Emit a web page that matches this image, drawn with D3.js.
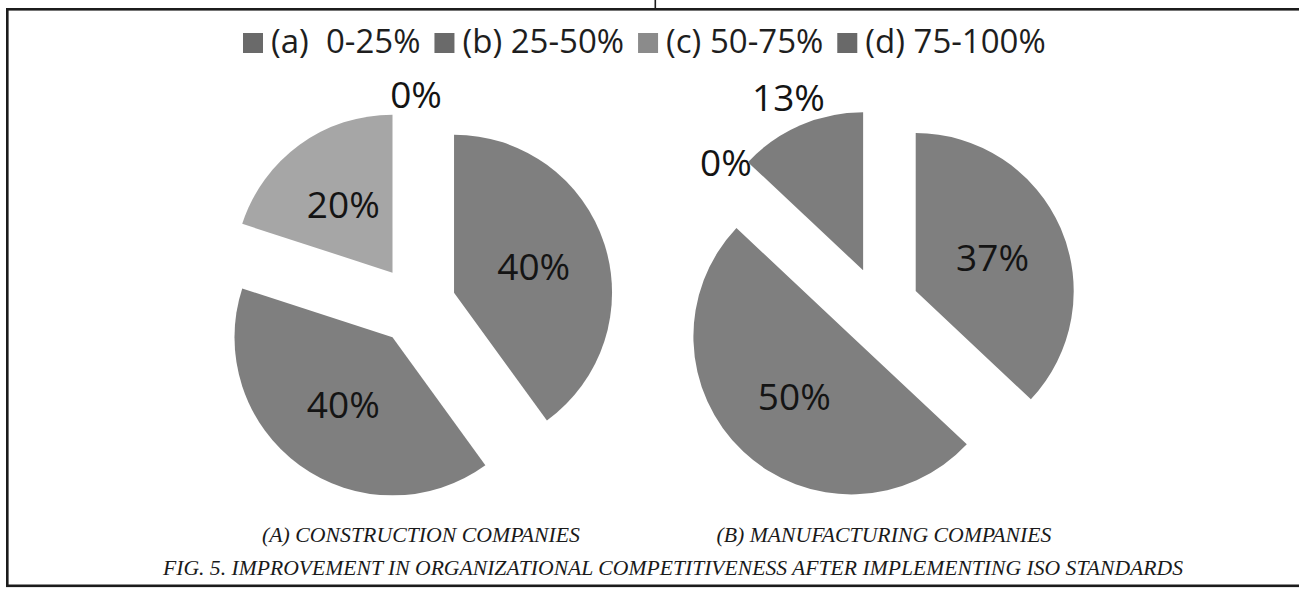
<!DOCTYPE html>
<html>
<head>
<meta charset="utf-8">
<script src="https://cdn.jsdelivr.net/npm/d3@7"></script>
<style>
  html, body { margin: 0; padding: 0; background: #fff; }
  svg { display: block; }
</style>
</head>
<body>
<svg id="chart" width="1299" height="590"></svg>
<script>
// Response categories (share of improvement) and survey results per sector, in %
const categories = ["(a)  0-25%", "(b) 25-50%", "(c) 50-75%", "(d) 75-100%"];
const construction = [40, 40, 20, 0];
const manufacturing = [37, 50, 0, 13];
const panelTitles = ["(A) CONSTRUCTION COMPANIES", "(B) MANUFACTURING COMPANIES"];
const figureTitle = "FIG. 5. IMPROVEMENT IN ORGANIZATIONAL COMPETITIVENESS AFTER IMPLEMENTING ISO STANDARDS";
const sliceColors = ["#7f7f7f", "#7f7f7f", "#a6a6a6", "#7d7d7d"];

const svg = d3.select("#chart");
const color = d3.scaleOrdinal().domain(categories).range(sliceColors);

// Page frame: heavy rule on top, left and bottom, small divider tick above
const ink = "#1c1c1c";
svg.append("rect").attr("x", 6).attr("y", 8).attr("width", 1293).attr("height", 2.6).attr("fill", ink);
svg.append("rect").attr("x", 6).attr("y", 8).attr("width", 2.6).attr("height", 579).attr("fill", ink);
svg.append("rect").attr("x", 6).attr("y", 584.5).attr("width", 1293).attr("height", 2.6).attr("fill", ink);
svg.append("rect").attr("x", 654.5).attr("y", 0).attr("width", 1.6).attr("height", 9).attr("fill", ink);

// Legend across the top
const legend = svg.append("g").attr("class", "legend");
let lx = 243;
categories.forEach(c => {
  const item = legend.append("g").attr("transform", `translate(${lx},0)`);
  item.append("rect")
    .attr("x", 0).attr("y", 33).attr("width", 20).attr("height", 20)
    .attr("fill", d3.color(color(c)).darker(0.5));
  const t = item.append("text")
    .attr("x", 28).attr("y", 53)
    .attr("font-family", "'Open Sans', sans-serif")
    .attr("font-size", 33)
    .attr("fill", "#1e1e1e")
    .style("white-space", "pre")
    .text(c);
  lx += 28 + t.node().getComputedTextLength() + 14;
});

// Exploded pies
const R = 158, explode = 40;
const pie = d3.pie().sort(null).value(d => d.value);
const arc = d3.arc().innerRadius(0).outerRadius(R);

const panels = [
  { values: construction, cx: 416, cy: 305 },
  { values: manufacturing, cx: 879, cy: 307 }
];

panels.forEach((p, i) => {
  const data = categories.map((c, k) => ({ category: c, value: p.values[k] }));
  const g = svg.append("g").attr("transform", `translate(${p.cx},${p.cy})`);
  const slices = g.selectAll("g.slice").data(pie(data)).join("g")
    .attr("class", "slice")
    .attr("transform", d => {
      const m = (d.startAngle + d.endAngle) / 2;
      return `translate(${explode * Math.sin(m)},${-explode * Math.cos(m)})`;
    });

  slices.filter(d => d.data.value > 0).append("path")
    .attr("d", arc)
    .attr("fill", d => color(d.data.category));

  slices.append("text")
    .attr("transform", d => {
      const m = (d.startAngle + d.endAngle) / 2;
      const v = d.data.value;
      const dist = v >= 15 ? R * 0.53 : R + (v === 0 ? 12 : 30);
      return `translate(${dist * Math.sin(m)},${-dist * Math.cos(m)})`;
    })
    .attr("dy", "0.357em")
    .attr("text-anchor", "middle")
    .attr("font-family", "'Open Sans', sans-serif")
    .attr("font-size", 37)
    .attr("fill", "#141414")
    .text(d => d.data.value + "%");

  svg.append("text")
    .attr("x", p.cx + 5).attr("y", 542)
    .attr("text-anchor", "middle")
    .attr("font-family", "'Liberation Serif', 'Times New Roman', serif")
    .attr("font-style", "italic")
    .attr("font-size", 22)
    .attr("fill", "#1a1a1a")
    .attr("textLength", i === 0 ? 318 : 335)
    .attr("lengthAdjust", "spacingAndGlyphs")
    .text(panelTitles[i]);
});

svg.append("text")
  .attr("x", 673).attr("y", 575)
  .attr("text-anchor", "middle")
  .attr("font-family", "'Liberation Serif', 'Times New Roman', serif")
  .attr("font-style", "italic")
  .attr("font-size", 22)
  .attr("fill", "#1a1a1a")
  .attr("textLength", 1020)
  .attr("lengthAdjust", "spacingAndGlyphs")
  .text(figureTitle);
</script>
</body>
</html>
